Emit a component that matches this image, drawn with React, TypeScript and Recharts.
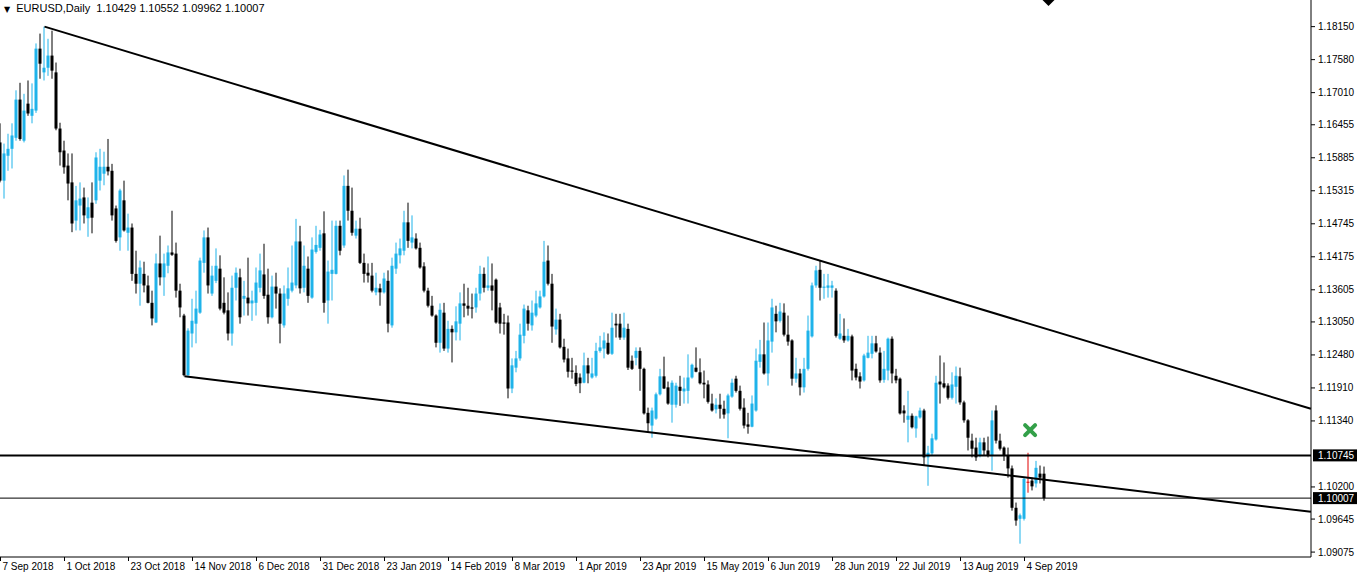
import React from 'react';
import { ComposedChart, Bar, XAxis, YAxis, ReferenceLine, ReferenceDot } from 'recharts';

// EURUSD daily candles, 7 Sep 2018 .. 11 Sep 2019 (one entry per trading day)
const opens = [
  1.1615, 1.1549, 1.1592, 1.1604, 1.1623, 1.1689, 1.1618, 1.1682, 1.1661, 1.1670,
  1.1777, 1.1736, 1.1744, 1.1765, 1.1736, 1.1639, 1.1601, 1.1575, 1.1546, 1.1480,
  1.1506, 1.1520, 1.1484, 1.1511, 1.1515, 1.1549, 1.1561, 1.1573, 1.1566, 1.1501,
  1.1451, 1.1515, 1.1459, 1.1468, 1.1388, 1.1371, 1.1388, 1.1368, 1.1338, 1.1304,
  1.1406, 1.1382, 1.1402, 1.1425, 1.1423, 1.1359, 1.1316, 1.1213, 1.1285, 1.1302,
  1.1321, 1.1407, 1.1451, 1.1354, 1.1376, 1.1397, 1.1338, 1.1325, 1.1285, 1.1364,
  1.1382, 1.1345, 1.1347, 1.1337, 1.1338, 1.1364, 1.1387, 1.1352, 1.1313, 1.1366,
  1.1354, 1.1299, 1.1345, 1.1359, 1.1368, 1.1444, 1.1364, 1.1397, 1.1347, 1.1426,
  1.1433, 1.1458, 1.1342, 1.1388, 1.1388, 1.1471, 1.1437, 1.1540, 1.1497, 1.1454,
  1.1466, 1.1407, 1.1390, 1.1385, 1.1356, 1.1363, 1.1356, 1.1376, 1.1299, 1.1397,
  1.1420, 1.1428, 1.1477, 1.1442, 1.1449, 1.1433, 1.1401, 1.1359, 1.1333, 1.1316,
  1.1269, 1.1321, 1.1259, 1.1293, 1.1287, 1.1302, 1.1337, 1.1333, 1.1330, 1.1330,
  1.1354, 1.1388, 1.1364, 1.1368, 1.1378, 1.1330, 1.1304, 1.1304, 1.1190, 1.1226,
  1.1242, 1.1281, 1.1325, 1.1299, 1.1316, 1.1330, 1.1349, 1.1411, 1.1371, 1.1292,
  1.1309, 1.1262, 1.1242, 1.1221, 1.1217, 1.1209, 1.1200, 1.1230, 1.1209, 1.1212,
  1.1255, 1.1259, 1.1269, 1.1250, 1.1302, 1.1302, 1.1278, 1.1293, 1.1238, 1.1243,
  1.1255, 1.1224, 1.1148, 1.1126, 1.1138, 1.1180, 1.1211, 1.1192, 1.1162, 1.1162,
  1.1193, 1.1185, 1.1186, 1.1209, 1.1226, 1.1218, 1.1200, 1.1197, 1.1164, 1.1154,
  1.1162, 1.1155, 1.1147, 1.1176, 1.1207, 1.1186, 1.1157, 1.1128, 1.1124, 1.1152,
  1.1236, 1.1249, 1.1216, 1.1271, 1.1319, 1.1307, 1.1321, 1.1283, 1.1273, 1.1207,
  1.1216, 1.1192, 1.1224, 1.1280, 1.1368, 1.1395, 1.1364, 1.1364, 1.1364, 1.1359,
  1.1276, 1.1281, 1.1273, 1.1280, 1.1224, 1.1211, 1.1204, 1.1243, 1.1250, 1.1268,
  1.1252, 1.1205, 1.1221, 1.1276, 1.1212, 1.1207, 1.1152, 1.1136, 1.1143, 1.1121,
  1.1140, 1.1152, 1.1071, 1.1078, 1.1102, 1.1202, 1.1199, 1.1195, 1.1174, 1.1193,
  1.1211, 1.1166, 1.1135, 1.1100, 1.1088, 1.1074, 1.1097, 1.1083, 1.1074, 1.1152,
  1.1100, 1.1088, 1.1074, 1.1052, 1.0984, 1.0965, 1.0965, 1.1029, 1.1031, 1.1026,
  1.1043, 1.10429,
];

const highs = [
  1.1648, 1.1613, 1.1630, 1.1648, 1.1705, 1.1718, 1.1699, 1.1722, 1.1717, 1.1786,
  1.1803, 1.1815, 1.1794, 1.1808, 1.1753, 1.1649, 1.1618, 1.1596, 1.1596, 1.1540,
  1.1546, 1.1537, 1.1520, 1.1546, 1.1598, 1.1604, 1.1599, 1.1621, 1.1578, 1.1506,
  1.1535, 1.1549, 1.1492, 1.1475, 1.1428, 1.1411, 1.1409, 1.1385, 1.1359, 1.1423,
  1.1454, 1.1423, 1.1437, 1.1497, 1.1442, 1.1371, 1.1319, 1.1294, 1.1345, 1.1359,
  1.1416, 1.1463, 1.1468, 1.1402, 1.1432, 1.1420, 1.1382, 1.1356, 1.1385, 1.1399,
  1.1397, 1.1376, 1.1416, 1.1359, 1.1399, 1.1423, 1.1440, 1.1397, 1.1385, 1.1390,
  1.1363, 1.1368, 1.1399, 1.1437, 1.1483, 1.1471, 1.1437, 1.1418, 1.1451, 1.1471,
  1.1464, 1.1496, 1.1411, 1.1480, 1.1480, 1.1480, 1.1558, 1.1568, 1.1537, 1.1480,
  1.1485, 1.1423, 1.1406, 1.1407, 1.1390, 1.1371, 1.1390, 1.1394, 1.1416, 1.1442,
  1.1449, 1.1497, 1.1511, 1.1489, 1.1458, 1.1442, 1.1408, 1.1364, 1.1350, 1.1318,
  1.1337, 1.1338, 1.1307, 1.1299, 1.1332, 1.1356, 1.1371, 1.1364, 1.1354, 1.1364,
  1.1402, 1.1399, 1.1418, 1.1406, 1.1380, 1.1338, 1.1319, 1.1316, 1.1242, 1.1255,
  1.1302, 1.1335, 1.1333, 1.1342, 1.1359, 1.1359, 1.1445, 1.1437, 1.1388, 1.1328,
  1.1319, 1.1276, 1.1259, 1.1243, 1.1230, 1.1216, 1.1252, 1.1243, 1.1243, 1.1269,
  1.1281, 1.1287, 1.1285, 1.1321, 1.1319, 1.1319, 1.1321, 1.1302, 1.1247, 1.1261,
  1.1261, 1.1226, 1.1157, 1.1157, 1.1183, 1.1224, 1.1245, 1.1202, 1.1204, 1.1200,
  1.1212, 1.1209, 1.1249, 1.1233, 1.1261, 1.1242, 1.1221, 1.1204, 1.1181, 1.1173,
  1.1181, 1.1169, 1.1181, 1.1207, 1.1212, 1.1195, 1.1173, 1.1148, 1.1178, 1.1259,
  1.1274, 1.1304, 1.1304, 1.1345, 1.1333, 1.1338, 1.1337, 1.1316, 1.1275, 1.1243,
  1.1224, 1.1243, 1.1316, 1.1373, 1.1402, 1.1411, 1.1388, 1.1388, 1.1376, 1.1363,
  1.1319, 1.1311, 1.1293, 1.1283, 1.1233, 1.1218, 1.1250, 1.1281, 1.1281, 1.1281,
  1.1261, 1.1255, 1.1278, 1.1280, 1.1224, 1.1209, 1.1161, 1.1186, 1.1147, 1.1143,
  1.1157, 1.1155, 1.1091, 1.1112, 1.1212, 1.1247, 1.1235, 1.1199, 1.1218, 1.1228,
  1.1226, 1.1169, 1.1137, 1.1112, 1.1105, 1.1105, 1.1105, 1.1107, 1.1152, 1.1161,
  1.1112, 1.1090, 1.1088, 1.1057, 1.0993, 1.0974, 1.1036, 1.1079, 1.1036, 1.1065,
  1.1057, 1.10552,
];

const lows = [
  1.1546, 1.1518, 1.1566, 1.1570, 1.1618, 1.1618, 1.1615, 1.1661, 1.1648, 1.1666,
  1.1725, 1.1722, 1.1730, 1.1725, 1.1636, 1.1575, 1.1561, 1.1515, 1.1460, 1.1463,
  1.1463, 1.1475, 1.1452, 1.1458, 1.1509, 1.1532, 1.1541, 1.1558, 1.1480, 1.1442,
  1.1428, 1.1461, 1.1428, 1.1376, 1.1354, 1.1333, 1.1356, 1.1337, 1.1299, 1.1303,
  1.1368, 1.1350, 1.1389, 1.1419, 1.1347, 1.1313, 1.1211, 1.1212, 1.1261, 1.1268,
  1.1319, 1.1390, 1.1354, 1.1350, 1.1372, 1.1325, 1.1318, 1.1273, 1.1264, 1.1342,
  1.1302, 1.1316, 1.1316, 1.1307, 1.1316, 1.1356, 1.1345, 1.1302, 1.1311, 1.1328,
  1.1268, 1.1295, 1.1333, 1.1356, 1.1363, 1.1354, 1.1356, 1.1338, 1.1345, 1.1423,
  1.1428, 1.1321, 1.1302, 1.1342, 1.1387, 1.1420, 1.1433, 1.1480, 1.1454, 1.1449,
  1.1405, 1.1373, 1.1373, 1.1356, 1.1351, 1.1333, 1.1354, 1.1287, 1.1295, 1.1388,
  1.1406, 1.1420, 1.1433, 1.1432, 1.1430, 1.1397, 1.1356, 1.1330, 1.1314, 1.1261,
  1.1252, 1.1255, 1.1252, 1.1235, 1.1273, 1.1273, 1.1313, 1.1316, 1.1311, 1.1321,
  1.1342, 1.1356, 1.1359, 1.1325, 1.1302, 1.1285, 1.1283, 1.1173, 1.1182, 1.1218,
  1.1238, 1.1268, 1.1290, 1.1290, 1.1313, 1.1328, 1.1347, 1.1368, 1.1269, 1.1283,
  1.1259, 1.1235, 1.1209, 1.1207, 1.1194, 1.1182, 1.1199, 1.1199, 1.1207, 1.1209,
  1.1252, 1.1242, 1.1248, 1.1248, 1.1278, 1.1274, 1.1274, 1.1222, 1.1222, 1.1230,
  1.1186, 1.1145, 1.1114, 1.1105, 1.1136, 1.1178, 1.1189, 1.1162, 1.1131, 1.1157,
  1.1160, 1.1164, 1.1164, 1.1207, 1.1218, 1.1197, 1.1173, 1.1164, 1.1150, 1.1147,
  1.1138, 1.1138, 1.1104, 1.1174, 1.1183, 1.1152, 1.1121, 1.1112, 1.1123, 1.1150,
  1.1226, 1.1214, 1.1195, 1.1252, 1.1287, 1.1304, 1.1280, 1.1264, 1.1195, 1.1200,
  1.1178, 1.1183, 1.1221, 1.1278, 1.1364, 1.1342, 1.1345, 1.1347, 1.1347, 1.1278,
  1.1274, 1.1269, 1.1271, 1.1204, 1.1204, 1.1190, 1.1202, 1.1242, 1.1242, 1.1252,
  1.1200, 1.1200, 1.1204, 1.1199, 1.1199, 1.1145, 1.1131, 1.1097, 1.1121, 1.1105,
  1.1138, 1.1057, 1.1022, 1.1074, 1.1100, 1.1164, 1.1190, 1.1171, 1.1171, 1.1164,
  1.1162, 1.1131, 1.1083, 1.1071, 1.1065, 1.1071, 1.1074, 1.1071, 1.1048, 1.1095,
  1.1083, 1.1065, 1.1036, 1.0979, 1.0953, 1.0922, 1.0962, 1.1010, 1.1014, 1.1019,
  1.1026, 1.09962,
];

const closes = [
  1.1549, 1.1596, 1.1604, 1.1627, 1.1689, 1.1621, 1.1670, 1.1665, 1.1673, 1.1777,
  1.1751, 1.1744, 1.1765, 1.1739, 1.1639, 1.1598, 1.1572, 1.1544, 1.1475, 1.1515,
  1.1518, 1.1489, 1.1503, 1.1485, 1.1589, 1.1573, 1.1573, 1.1565, 1.1489, 1.1445,
  1.1532, 1.1463, 1.1468, 1.1388, 1.1371, 1.1399, 1.1368, 1.1338, 1.1311, 1.1406,
  1.1382, 1.1406, 1.1425, 1.1421, 1.1359, 1.1330, 1.1213, 1.1290, 1.1307, 1.1328,
  1.1411, 1.1451, 1.1368, 1.1385, 1.1402, 1.1328, 1.1321, 1.1285, 1.1364, 1.1390,
  1.1313, 1.1350, 1.1337, 1.1342, 1.1373, 1.1394, 1.1350, 1.1313, 1.1366, 1.1354,
  1.1302, 1.1354, 1.1363, 1.1373, 1.1444, 1.1363, 1.1402, 1.1350, 1.1430, 1.1438,
  1.1456, 1.1338, 1.1392, 1.1395, 1.1471, 1.1428, 1.1540, 1.1497, 1.1459, 1.1466,
  1.1407, 1.1388, 1.1385, 1.1359, 1.1364, 1.1356, 1.1380, 1.1302, 1.1402, 1.1423,
  1.1432, 1.1477, 1.1445, 1.1451, 1.1432, 1.1399, 1.1359, 1.1333, 1.1316, 1.1269,
  1.1326, 1.1259, 1.1293, 1.1287, 1.1306, 1.1337, 1.1333, 1.1328, 1.1328, 1.1354,
  1.1388, 1.1364, 1.1368, 1.1359, 1.1304, 1.1302, 1.1302, 1.1190, 1.1230, 1.1242,
  1.1283, 1.1328, 1.1302, 1.1321, 1.1337, 1.1349, 1.1409, 1.1371, 1.1297, 1.1309,
  1.1261, 1.1240, 1.1219, 1.1219, 1.1198, 1.1199, 1.1230, 1.1216, 1.1216, 1.1255,
  1.1261, 1.1273, 1.1250, 1.1295, 1.1299, 1.1278, 1.1295, 1.1226, 1.1224, 1.1255,
  1.1224, 1.1147, 1.1130, 1.1152, 1.1180, 1.1211, 1.1190, 1.1164, 1.1200, 1.1195,
  1.1186, 1.1190, 1.1209, 1.1231, 1.1219, 1.1199, 1.1197, 1.1167, 1.1152, 1.1162,
  1.1155, 1.1145, 1.1178, 1.1200, 1.1186, 1.1155, 1.1126, 1.1124, 1.1164, 1.1238,
  1.1249, 1.1216, 1.1273, 1.1330, 1.1306, 1.1323, 1.1283, 1.1271, 1.1207, 1.1216,
  1.1192, 1.1224, 1.1290, 1.1368, 1.1394, 1.1364, 1.1366, 1.1368, 1.1368, 1.1281,
  1.1285, 1.1273, 1.1281, 1.1221, 1.1209, 1.1202, 1.1247, 1.1252, 1.1268, 1.1254,
  1.1204, 1.1224, 1.1276, 1.1216, 1.1204, 1.1147, 1.1147, 1.1143, 1.1123, 1.1142,
  1.1152, 1.1071, 1.1079, 1.1104, 1.1200, 1.1197, 1.1192, 1.1174, 1.1197, 1.1212,
  1.1166, 1.1135, 1.1105, 1.1086, 1.1071, 1.1097, 1.1083, 1.1074, 1.1135, 1.1100,
  1.1086, 1.1074, 1.1052, 1.0984, 1.0962, 1.0971, 1.1034, 1.1029, 1.1021, 1.1053,
  1.1036, 1.10007,
];

const dateTicks = [0, 16, 32, 48, 64, 80, 96, 112, 128, 144, 160, 176, 192, 208, 224, 240, 256];
const dateLabels = [
  '7 Sep 2018', '1 Oct 2018', '23 Oct 2018', '14 Nov 2018', '6 Dec 2018', '31 Dec 2018',
  '23 Jan 2019', '14 Feb 2019', '8 Mar 2019', '1 Apr 2019', '23 Apr 2019', '15 May 2019',
  '6 Jun 2019', '28 Jun 2019', '22 Jul 2019', '13 Aug 2019', '4 Sep 2019',
];
const priceTicks = [
  1.1815, 1.1758, 1.1701, 1.16455, 1.15885, 1.15315, 1.14745, 1.14175,
  1.13605, 1.1305, 1.1248, 1.1191, 1.1134, 1.102, 1.09645, 1.09075,
];

// drawn objects on the chart
const upperTrend = [{ x: 11, y: 1.1815 }, { x: 327.6, y: 1.1155 }];
const lowerTrend = [{ x: 46, y: 1.1211 }, { x: 327.6, y: 1.0977 }];
const levelHigh = 1.10745;
const levelLow = 1.10007;
const crossMark = { x: 257.4, y: 1.1118 };

const BULL = '#1fb3ea';
const BEAR = '#000000';
const DOJI = '#e00000';
const FONT = '"Liberation Sans", Arial, sans-serif';

const data = opens.map((open, i) => ({
  idx: i,
  open,
  high: highs[i],
  low: lows[i],
  close: closes[i],
  range: [lows[i], highs[i]],
}));

const Candle = (props: any) => {
  const { x, y, width, height, payload } = props;
  if (!payload || height == null) return null;
  const { open, close, high, low } = payload;
  const top = Math.min(y, y + height);
  const h = Math.abs(height);
  const cx = x + width / 2;
  const k = high > low ? h / (high - low) : 0;
  const yOf = (v: number) => top + (high - v) * k;
  const color = close === open ? DOJI : close > open ? BULL : BEAR;
  const bt = yOf(Math.max(open, close));
  const bb = yOf(Math.min(open, close));
  return (
    <g>
      <line x1={cx} x2={cx} y1={top} y2={top + h} stroke={color} strokeWidth={1} />
      <rect x={cx - 1.5} y={bt} width={3} height={Math.max(bb - bt, 1)} fill={color} />
    </g>
  );
};

const DateTick = (props: any) => {
  const { x, y, payload } = props;
  const label = dateLabels[dateTicks.indexOf(payload.value)];
  return (
    <text x={x + 2} y={y} dy="0.71em" textAnchor="start" fontSize={10} fontFamily={FONT} fill="#000">
      {label}
    </text>
  );
};

const priceTag = (text: string) => (props: any) => {
  const vb = props.viewBox || {};
  const right = (vb.x || 0) + (vb.width || 0);
  const cy = vb.y || 0;
  return (
    <g>
      <rect x={right + 2} y={cy - 6} width={44} height={12} fill="#000" />
      <text x={right + 7} y={cy} dy="0.355em" fontSize={10} fontFamily={FONT} fill="#fff">
        {text}
      </text>
    </g>
  );
};

const CrossShape = (props: any) => {
  const { cx, cy } = props;
  const s = 5;
  return (
    <g stroke="#33a049" strokeWidth={4} strokeLinecap="round">
      <line x1={cx - s} y1={cy - s} x2={cx + s} y2={cy + s} />
      <line x1={cx - s} y1={cy + s} x2={cx + s} y2={cy - s} />
    </g>
  );
};

const ShiftMarker = (props: any) => {
  const { cx, cy } = props;
  return <polygon points={`${cx - 6},${cy} ${cx + 6},${cy} ${cx},${cy + 6}`} fill="#000" />;
};

export default function App() {
  return (
    <div style={{ position: 'absolute', left: 0, top: 0, width: 1358, height: 577, background: '#fff' }}>
      <ComposedChart width={1358} height={577} data={data} margin={{ top: 0, right: 0, bottom: 0, left: 0 }}>
        <XAxis
          dataKey="idx"
          type="number"
          domain={[-0.125, 327.625]}
          allowDataOverflow
          ticks={dateTicks}
          interval={0}
          tick={<DateTick />}
          tickSize={4}
          tickLine={{ stroke: '#000' }}
          axisLine={{ stroke: '#000' }}
          height={20}
        />
        <YAxis
          orientation="right"
          type="number"
          domain={[1.0899, 1.1861]}
          allowDataOverflow
          ticks={priceTicks}
          interval={0}
          tickFormatter={(v: number) => v.toFixed(5)}
          tick={{ fontSize: 10, fill: '#000', fontFamily: FONT }}
          tickSize={4}
          tickMargin={3}
          tickLine={{ stroke: '#000' }}
          axisLine={{ stroke: '#000' }}
          width={47}
        />
        <Bar dataKey="range" barSize={3} shape={<Candle />} isAnimationActive={false} />
        <ReferenceLine segment={upperTrend} stroke="#000" strokeWidth={2} />
        <ReferenceLine segment={lowerTrend} stroke="#000" strokeWidth={2} />
        <ReferenceLine y={levelHigh} stroke="#000" strokeWidth={2} label={priceTag('1.10745')} />
        <ReferenceLine y={levelLow} stroke="#000" strokeWidth={1} label={priceTag('1.10007')} />
        <ReferenceDot x={crossMark.x} y={crossMark.y} shape={<CrossShape />} ifOverflow="visible" />
        <ReferenceDot x={262} y={1.1861} shape={<ShiftMarker />} ifOverflow="visible" />
      </ComposedChart>
      <div
        style={{
          position: 'absolute',
          left: 4,
          top: 2,
          fontFamily: FONT,
          fontSize: 11,
          lineHeight: '13px',
          color: '#000',
          whiteSpace: 'pre',
        }}
      >
        <span style={{ fontSize: 8, fontFamily: '"DejaVu Sans", sans-serif' }}>▼</span>
        {'  EURUSD,Daily  1.10429 1.10552 1.09962 1.10007'}
      </div>
    </div>
  );
}
